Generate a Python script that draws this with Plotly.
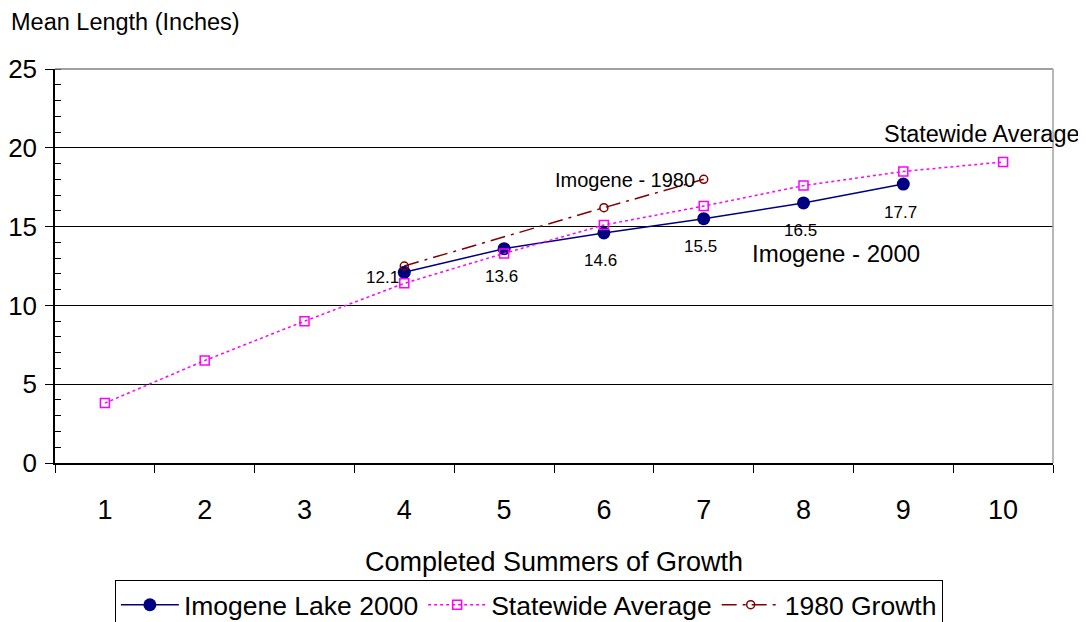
import plotly.graph_objects as go

summers = [1, 2, 3, 4, 5, 6, 7, 8, 9, 10]
tick_labels = ["1", "2", "3", "4", "5", "6", "7", "8", "9", "10"]

imogene_2000_x = [4, 5, 6, 7, 8, 9]
imogene_2000_y = [12.1, 13.6, 14.6, 15.5, 16.5, 17.7]

statewide_x = [1, 2, 3, 4, 5, 6, 7, 8, 9, 10]
statewide_y = [3.8, 6.5, 9.0, 11.4, 13.3, 15.1, 16.3, 17.6, 18.5, 19.1]

growth_1980_x = [4, 6, 7]
growth_1980_y = [12.5, 16.2, 18.0]

FONT = "Liberation Sans, Arial, sans-serif"
NAVY = "#000080"
MAGENTA = "#FF00FF"
DARKRED = "#800000"

# The page has an 8px body margin, so the figure is sized to fill the rest of the window.
W, H = 1078, 614

fig = go.Figure()
fig.add_trace(go.Scatter(
    x=imogene_2000_x, y=imogene_2000_y, name="Imogene Lake 2000",
    mode="lines+markers",
    line=dict(color=NAVY, width=1.5),
    marker=dict(symbol="circle", size=13, color=NAVY),
))
fig.add_trace(go.Scatter(
    x=statewide_x, y=statewide_y, name="Statewide Average",
    mode="lines+markers",
    line=dict(color=MAGENTA, width=1.5, dash="dot"),
    marker=dict(symbol="square-open", size=9, color=MAGENTA, line=dict(width=1.5, color=MAGENTA)),
))
fig.add_trace(go.Scatter(
    x=growth_1980_x, y=growth_1980_y, name="1980 Growth",
    mode="lines+markers",
    line=dict(color=DARKRED, width=1.5, dash="longdashdot"),
    marker=dict(symbol="circle-open", size=8, color=DARKRED, line=dict(width=1.5, color=DARKRED)),
))

annotations = []
for i, (xv, yv) in enumerate(zip(imogene_2000_x, imogene_2000_y)):
    if i == 0:
        xs, ys = -22, -5
    else:
        xs, ys = -3, -28
    annotations.append(dict(
        x=xv, y=yv, xref="x", yref="y", text=f"{yv:.1f}", showarrow=False,
        xshift=xs, yshift=ys, font=dict(family=FONT, size=17, color="black"),
    ))

annotations += [
    dict(x=growth_1980_x[-1], y=growth_1980_y[-1], xref="x", yref="y",
         text="Imogene - 1980", showarrow=False, xanchor="right", xshift=-7, yshift=-1,
         font=dict(family=FONT, size=20, color="black")),
    dict(x=8.33, y=13.3, xref="x", yref="y", text="Imogene - 2000", showarrow=False,
         font=dict(family=FONT, size=24, color="black")),
    dict(x=9.79, y=20.85, xref="x", yref="y", text="Statewide Average", showarrow=False,
         font=dict(family=FONT, size=23.5, color="black")),
    dict(x=-0.046, y=1.119, xref="paper", yref="paper", text="Mean Length (Inches)",
         showarrow=False, xanchor="left", yanchor="middle",
         font=dict(family=FONT, size=23.5, color="black")),
    dict(x=0.5, y=-0.251, xref="paper", yref="paper", text="Completed Summers of Growth",
         showarrow=False, xanchor="center", yanchor="middle",
         font=dict(family=FONT, size=27, color="black")),
]

fig.update_layout(
    width=W, height=H,
    margin=dict(l=47, r=33, t=61, b=159, autoexpand=False),
    paper_bgcolor="white", plot_bgcolor="white",
    font=dict(family=FONT, color="black"),
    showlegend=True,
    legend=dict(
        orientation="h", xref="paper", yref="container",
        x=0.06, y=1 - 572 / H, xanchor="left", yanchor="top",
        bordercolor="black", borderwidth=1, bgcolor="white",
        font=dict(family=FONT, size=26.5, color="black"),
        itemwidth=58, tracegroupgap=0,
    ),
    annotations=annotations,
    shapes=[
        dict(type="line", xref="paper", yref="paper", x0=0, x1=1, y0=1, y1=1,
             line=dict(color="#808080", width=1.5)),
        dict(type="line", xref="paper", yref="paper", x0=1, x1=1, y0=0, y1=1,
             line=dict(color="#a0a0a0", width=1.5)),
    ],
)

fig.update_xaxes(
    range=[0.5, 10.5], tickmode="array", tickvals=summers, ticktext=tick_labels,
    ticks="", showgrid=False, zeroline=False,
    showline=True, linecolor="black", linewidth=1.5,
    tickfont=dict(family=FONT, size=27, color="black"),
    ticklabelstandoff=22,
    minor=dict(tickmode="array", tickvals=[v + 0.5 for v in [0] + summers],
               ticks="outside", ticklen=8, tickcolor="black", tickwidth=1, showgrid=False),
)
fig.update_yaxes(
    range=[0, 25], tickmode="linear", tick0=0, dtick=5,
    ticks="outside", ticklen=8, tickcolor="black", tickwidth=1,
    showgrid=True, gridcolor="black", gridwidth=1, zeroline=False,
    showline=True, linecolor="black", linewidth=1.5,
    tickfont=dict(family=FONT, size=26, color="black"),
    ticklabelstandoff=3,
    minor=dict(dtick=1, tick0=0, ticks="inside", ticklen=6, tickcolor="black", tickwidth=1, showgrid=False),
)

fig.write_html("out.html")
